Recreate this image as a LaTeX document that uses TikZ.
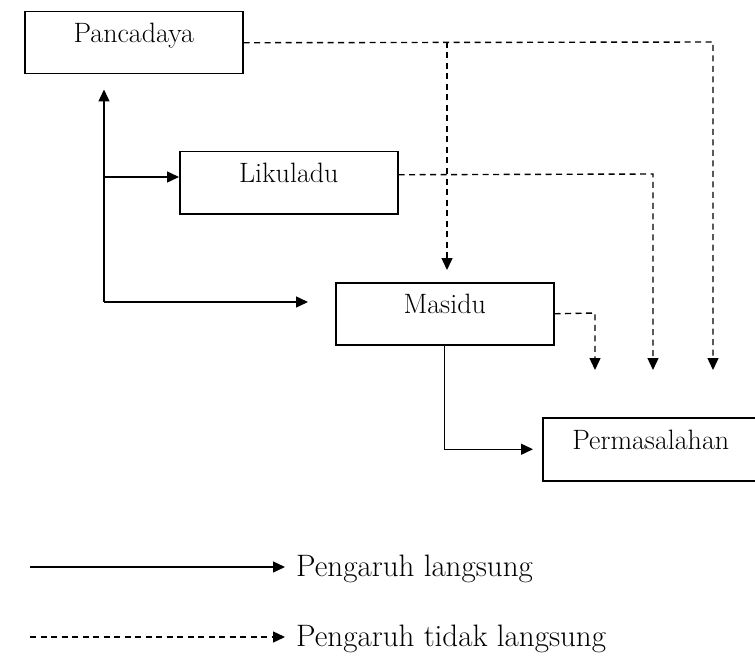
\documentclass[tikz,border=0pt]{standalone}
\usetikzlibrary{arrows.meta}
\begin{document}
\begin{tikzpicture}[x=1pt,y=-1pt,
  boxnode/.style={draw,line width=1.5pt,anchor=north west,inner sep=0pt,
    text height=13pt,text depth=13pt,font=\fontsize{28}{32}\selectfont},
  direct/.style={line width=1.4pt,-{Triangle[length=12pt,width=11pt]}},
  indirect/.style={line width=1.4pt,dash pattern=on 6pt off 4.5pt,-{Triangle[length=12pt,width=11pt]}},
  legtext/.style={anchor=base west,inner sep=0pt,font=\fontsize{31}{35}\selectfont}]
\useasboundingbox (0,0) rectangle (755,658);
\begin{scope}
\clip (0,0) rectangle (755,658);
\node[boxnode,minimum width=218pt,minimum height=62pt] (pan) at (24,11) {Pancadaya};
\node[boxnode,minimum width=218pt,minimum height=62pt] (lik) at (179,151) {Likuladu};
\node[boxnode,minimum width=218pt,minimum height=62pt] (mas) at (335,282) {Masidu};
\node[boxnode,minimum width=216pt,minimum height=63pt] (per) at (542,417) {Permasalahan};
\end{scope}
% direct influences
\coordinate (j1) at (104,302);
\coordinate (j2) at (104,177);
\draw[direct,shorten >=15pt] (j1) -- (j1 |- pan.south);
\draw[direct] (j2) -- (j2 -| lik.west);
\draw[direct,shorten >=27pt] (j1) -- (j1 -| mas.west);
\draw[direct,shorten >=9pt] (mas.south) |- (per.west);
% indirect influences
\coordinate (c1) at (713,42);
\coordinate (e1) at (713,370);
\draw[indirect] (pan.east) -- (c1) -- (e1);
\coordinate (b1) at (447,42);
\coordinate (b2) at (447,270);
\draw[indirect] (b1) -- (b2);
\coordinate (l0) at ([yshift=8pt]lik.east);
\coordinate (l1) at (653,174);
\coordinate (l2) at (653,370);
\draw[indirect] (l0) -- (l1) -- (l2);
\coordinate (s1) at (595,313);
\coordinate (s2) at (595,370);
\draw[indirect] (mas.east) -- (s1) -- (s2);
% legend
\coordinate (la) at (30,567);
\coordinate (lb) at (285,567);
\coordinate (lc) at (30,637);
\coordinate (ld) at (285,637);
\draw[direct] (la) -- (lb);
\draw[indirect] (lc) -- (ld);
\node[legtext] (t1) at (296,576) {Pengaruh langsung};
\node[legtext] (t2) at (296,646) {Pengaruh tidak langsung};
\end{tikzpicture}
\end{document}
